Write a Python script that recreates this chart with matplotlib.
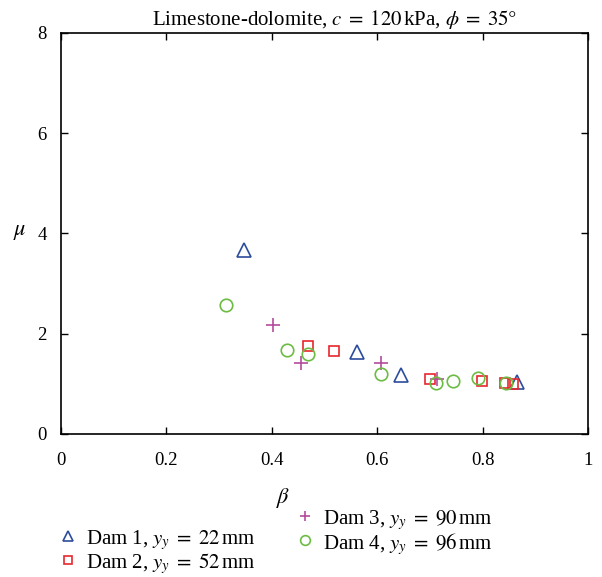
import matplotlib
matplotlib.use("Agg")
import matplotlib.pyplot as plt
from matplotlib.lines import Line2D

plt.rcParams["font.family"] = ["Liberation Serif", "DejaVu Serif"]
plt.rcParams["mathtext.fontset"] = "stix"

# Dam 1, y_y = 22 mm
dam1_beta = [0.347, 0.562, 0.645, 0.865]
dam1_mu = [3.67, 1.64, 1.17, 1.04]
# Dam 2, y_y = 52 mm
dam2_beta = [0.469, 0.519, 0.701, 0.798, 0.842, 0.858]
dam2_mu = [1.76, 1.66, 1.10, 1.05, 1.01, 1.00]
# Dam 3, y_y = 90 mm
dam3_beta = [0.402, 0.455, 0.607, 0.714]
dam3_mu = [2.18, 1.41, 1.41, 1.09]
# Dam 4, y_y = 96 mm
dam4_beta = [0.313, 0.428, 0.468, 0.607, 0.711, 0.744, 0.791, 0.844]
dam4_mu = [2.57, 1.68, 1.59, 1.19, 1.02, 1.06, 1.12, 1.01]

x_ticks = [0, 0.2, 0.4, 0.6, 0.8, 1]
x_labels = ["0", "0.2", "0.4", "0.6", "0.8", "1"]
y_ticks = [0, 2, 4, 6, 8]

series_labels = [r"Dam 1, $y_y\;=\;22\,$mm", r"Dam 2, $y_y\;=\;52\,$mm",
                 r"Dam 3, $y_y\;=\;90\,$mm", r"Dam 4, $y_y\;=\;96\,$mm"]

c1, c2, c3, c4 = "#2c4c9c", "#e8262c", "#b44c9c", "#6cbc44"
styles = [("^", 9.5, c1), ("s", 7.5, c2), ("+", 9.5, c3), ("o", 9, c4)]

W, H = 602, 577
fig = plt.figure(figsize=(W / 100, H / 100), dpi=100)
ax = fig.add_axes([0.101, 0.248, 0.876, 0.695])

for (bx, my), (m, ms, col) in zip(
        [(dam1_beta, dam1_mu), (dam2_beta, dam2_mu),
         (dam3_beta, dam3_mu), (dam4_beta, dam4_mu)], styles):
    ax.plot(bx, my, ls="none", marker=m, ms=ms, mfc="none", mec=col, mew=1.2)

ax.set_xlim(0, 1)
ax.set_ylim(0, 8)
ax.set_xticks(x_ticks)
ax.set_xticklabels(x_labels)
ax.set_yticks(y_ticks)
ax.tick_params(direction="in", top=True, right=True, length=5, width=1,
               labelsize=13.5)
ax.tick_params(axis="x", pad=13)
ax.tick_params(axis="y", pad=10)
for s in ax.spines.values():
    s.set_linewidth(1.2)

fig.text(335 / W, 1 - 25 / H,
         r"Limestone-dolomite, $c\;=\;120\,$kPa, $\phi\;=\;35°$",
         fontsize=15, ha="center", va="baseline")
fig.text(283 / W, 1 - 498 / H, r"$\beta$", fontsize=16, ha="center", va="center")
fig.text(20 / W, 1 - 233 / H, r"$\mu$", fontsize=16, ha="center", va="center")

# legend entries drawn in figure coordinates
legend_pos = [(68, 536), (68, 560), (305, 516), (305, 540)]
legend_ms = [7.5, 6, 7.5, 7]
for (px, py), (m, _, col), lms, lab in zip(legend_pos, styles, legend_ms,
                                            series_labels):
    fig.add_artist(Line2D([px / W], [1 - py / H], transform=fig.transFigure,
                          ls="none", marker=m, ms=lms, mfc="none", mec=col,
                          mew=1.2))
    fig.text((px + 18) / W, 1 - py / H, lab, fontsize=15,
             ha="left", va="center_baseline")

fig.savefig("out.png", dpi=100)
